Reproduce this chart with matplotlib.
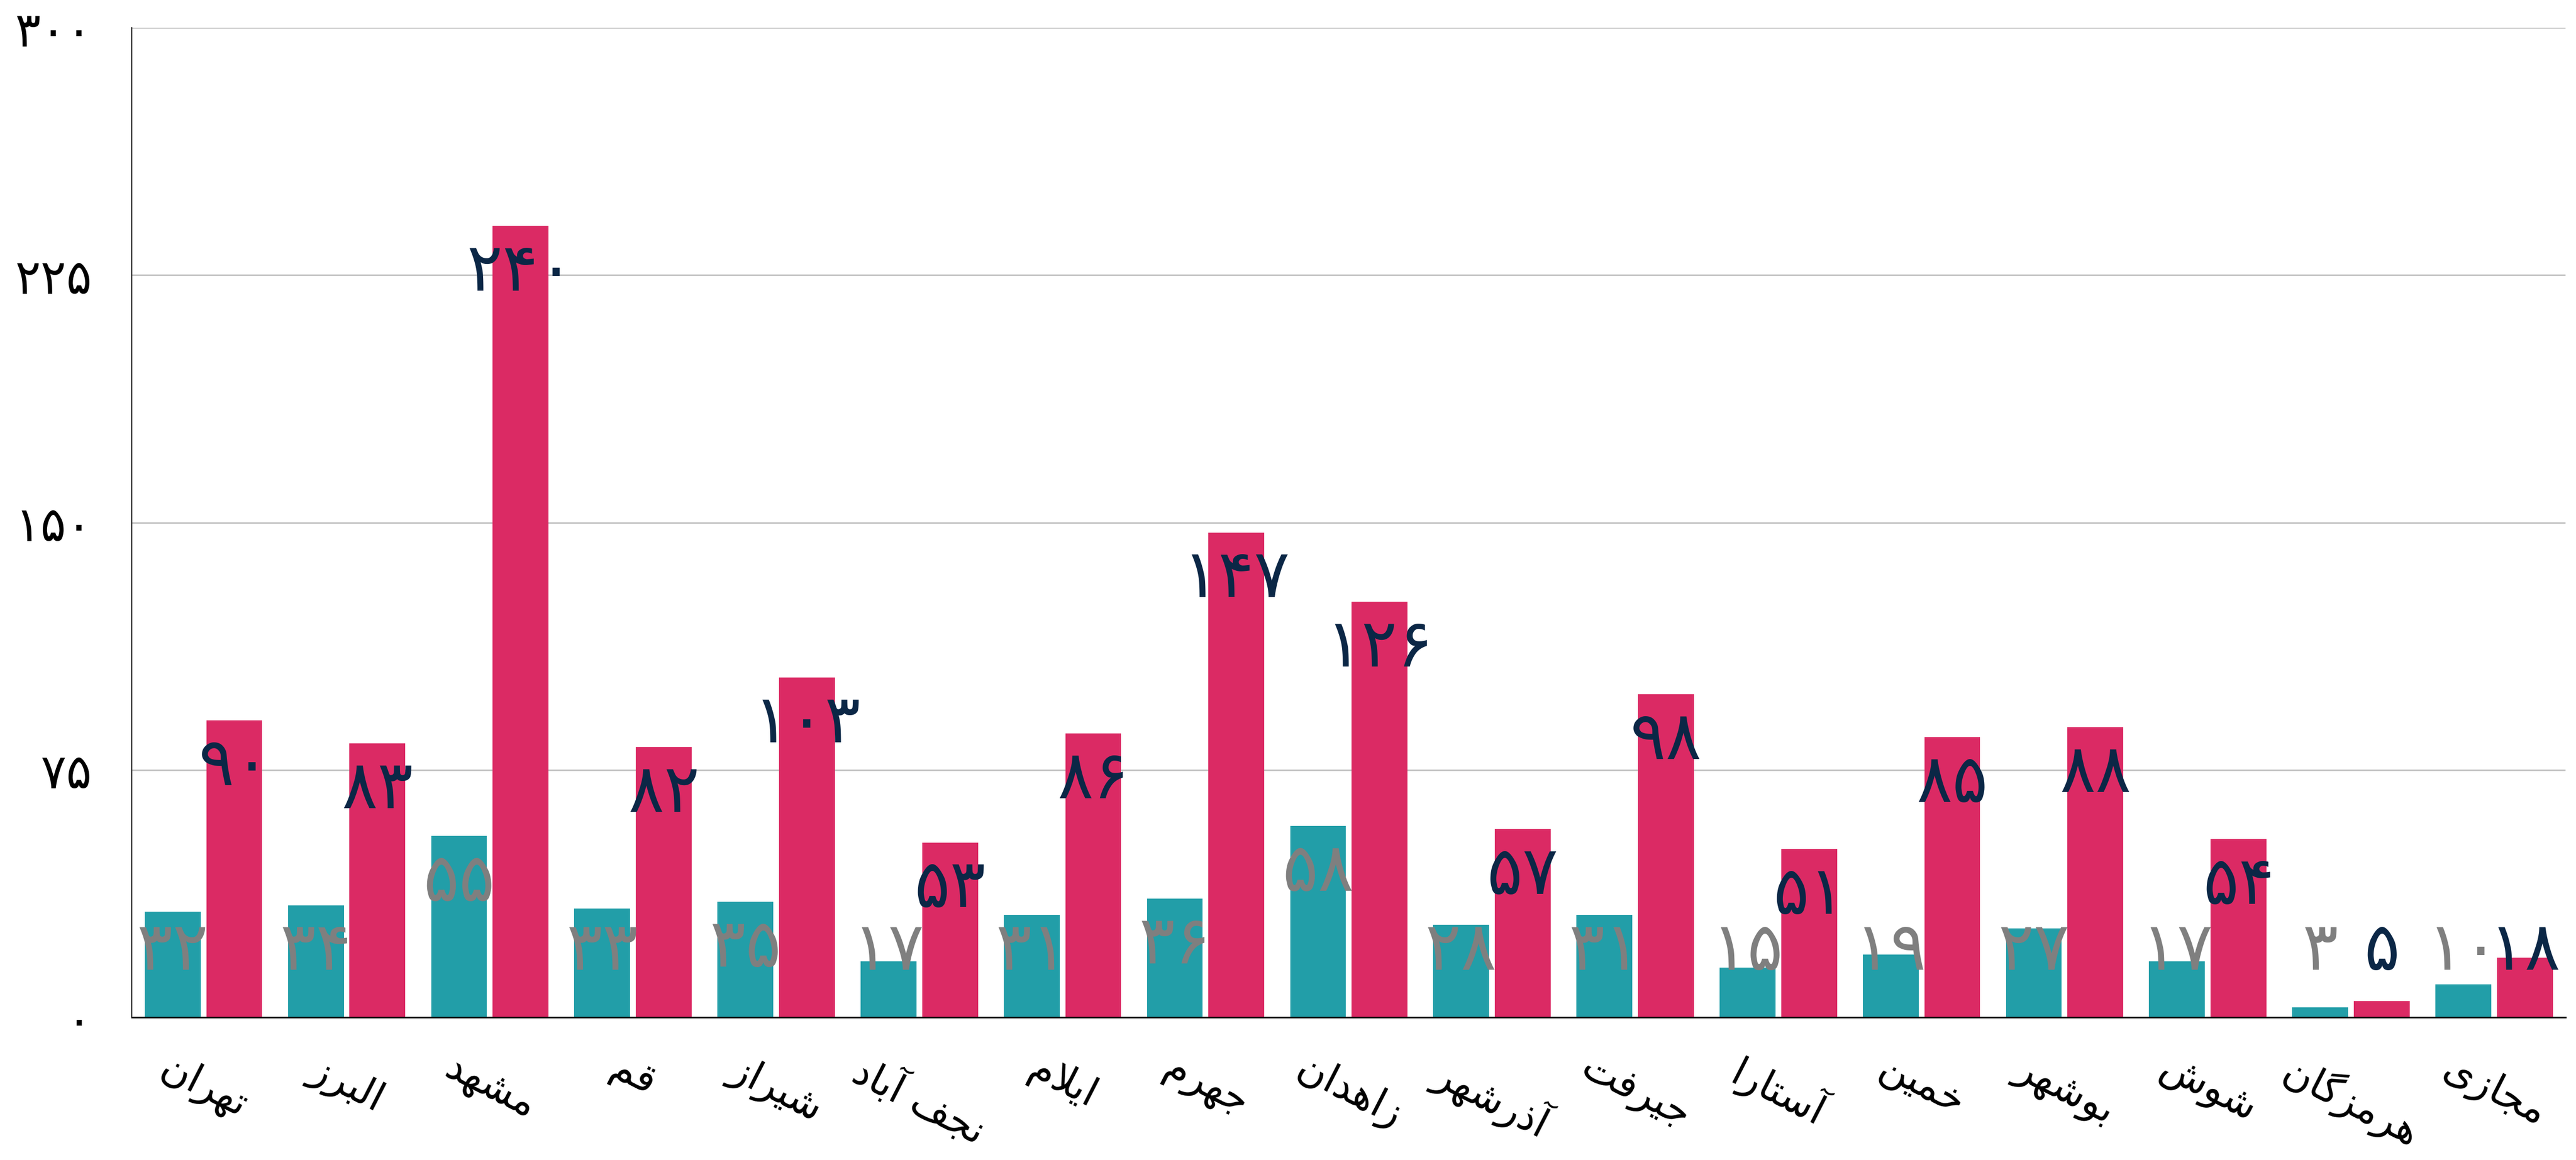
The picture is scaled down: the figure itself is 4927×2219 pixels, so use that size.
import matplotlib
matplotlib.use("Agg")
import matplotlib.pyplot as plt
import numpy as np

cities = ["تهران", "البرز", "مشهد", "قم", "شیراز", "نجف آباد", "ایلام", "جهرم", "زاهدان",
          "آذرشهر", "جیرفت", "آستارا", "خمین", "بوشهر", "شوش", "هرمزگان", "مجازی"]
teal_vals = [32, 34, 55, 33, 35, 17, 31, 36, 58, 28, 31, 15, 19, 27, 17, 3, 10]
red_vals = [90, 83, 240, 82, 103, 53, 86, 147, 126, 57, 98, 51, 85, 88, 54, 5, 18]
yticks = [0, 75, 150, 225, 300]

TEAL = "#229ea8"
RED = "#db2a64"
NAVY = "#0b2746"
GRAY = "#7f7f7f"

# matplotlib has no arabic shaping, so pick presentation forms by hand
FORMS = {
    "ا": ("\ufe8d", "\ufe8e", None, None),
    "آ": ("\ufe81", "\ufe82", None, None),
    "د": ("\ufea9", "\ufeaa", None, None),
    "ذ": ("\ufeab", "\ufeac", None, None),
    "ر": ("\ufead", "\ufeae", None, None),
    "ز": ("\ufeaf", "\ufeb0", None, None),
    "و": ("\ufeed", "\ufeee", None, None),
    "ب": ("\ufe8f", "\ufe90", "\ufe91", "\ufe92"),
    "ت": ("\ufe95", "\ufe96", "\ufe97", "\ufe98"),
    "ج": ("\ufe9d", "\ufe9e", "\ufe9f", "\ufea0"),
    "خ": ("\ufea5", "\ufea6", "\ufea7", "\ufea8"),
    "س": ("\ufeb1", "\ufeb2", "\ufeb3", "\ufeb4"),
    "ش": ("\ufeb5", "\ufeb6", "\ufeb7", "\ufeb8"),
    "ف": ("\ufed1", "\ufed2", "\ufed3", "\ufed4"),
    "ق": ("\ufed5", "\ufed6", "\ufed7", "\ufed8"),
    "ل": ("\ufedd", "\ufede", "\ufedf", "\ufee0"),
    "م": ("\ufee1", "\ufee2", "\ufee3", "\ufee4"),
    "ن": ("\ufee5", "\ufee6", "\ufee7", "\ufee8"),
    "ه": ("\ufee9", "\ufeea", "\ufeeb", "\ufeec"),
    "ی": ("\ufbfc", "\ufbfd", "\ufbfe", "\ufbff"),
    "گ": ("\ufb92", "\ufb93", "\ufb94", "\ufb95"),
}


def shape(word):
    out = []
    i = 0
    n = len(word)
    while i < n:
        c = word[i]
        if c not in FORMS:
            out.append(c)
            i += 1
            continue
        prev = word[i - 1] if i > 0 else None
        join_prev = prev in FORMS and FORMS[prev][2] is not None
        if c == "ل" and i + 1 < n and word[i + 1] == "ا":
            out.append("\ufefc" if join_prev else "\ufefb")
            i += 2
            continue
        nxt = word[i + 1] if i + 1 < n else None
        iso, fin, ini, med = FORMS[c]
        join_next = ini is not None and nxt in FORMS
        if join_prev and join_next:
            out.append(med)
        elif join_prev:
            out.append(fin)
        elif join_next:
            out.append(ini)
        else:
            out.append(iso)
        i += 1
    return "".join(reversed(out))


def fa(n):
    return str(n).translate(str.maketrans("0123456789", "۰۱۲۳۴۵۶۷۸۹"))


plt.rcParams["font.family"] = ["DejaVu Sans"]

fig = plt.figure(figsize=(49.27, 22.19), dpi=100)
ax = fig.add_axes([0.0512, 0.123, 0.9448, 0.853])

x = np.arange(len(cities))
w = 0.39
off = 0.215
ax.bar(x - off, teal_vals, w, color=TEAL, zorder=2)
ax.bar(x + off, red_vals, w, color=RED, zorder=2)

for i in range(len(cities)):
    ax.text(x[i] - off, max(teal_vals[i] - 14, 20), fa(teal_vals[i]), color=GRAY,
            fontsize=92, ha="center", va="center", zorder=3)
    ax.text(x[i] + off, max(red_vals[i] - 14, 20), fa(red_vals[i]), color=NAVY,
            fontsize=92, ha="center", va="center", zorder=3)

ax.set_xlim(-0.5, len(cities) - 0.5)
ax.set_ylim(0, 300)
ax.set_yticks(yticks, [fa(v) for v in yticks], fontsize=66)
ax.set_xticks(x, [shape(c) for c in cities], rotation=-27, ha="center", va="top", fontsize=55)
ax.tick_params(axis="both", length=0)
ax.tick_params(axis="y", pad=55)
ax.tick_params(axis="x", pad=44)

ax.grid(axis="y", color="#c0c0c0", linewidth=2, zorder=0)
ax.set_axisbelow(True)
for s in ["top", "right"]:
    ax.spines[s].set_visible(False)
ax.spines["left"].set_linewidth(1.5)
ax.spines["bottom"].set_linewidth(2.2)

fig.savefig("out.png", dpi=100)
